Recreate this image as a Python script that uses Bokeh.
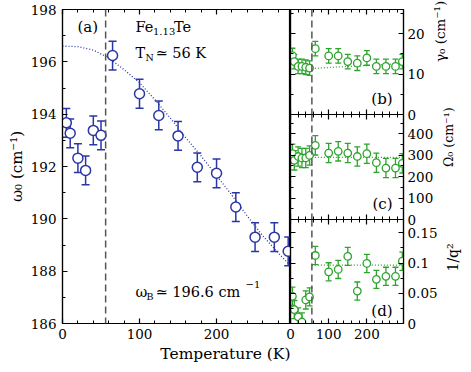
import math
from bokeh.plotting import figure
from bokeh.models import (ColumnDataSource, Whisker, TeeHead, Span, Label,
                          LinearAxis, FixedTicker, Range1d, Title)
from bokeh.layouts import row, column
from bokeh.embed import file_html
from bokeh.resources import INLINE

# ---------------- data ----------------
temperature = [5, 10, 20, 30, 40, 50, 65, 100, 125, 150, 175, 200, 225, 250, 275, 293]
omega0 = [193.67, 193.27, 192.32, 191.85, 193.38, 193.19, 196.24, 194.78,
          193.95, 193.17, 191.97, 191.74, 190.45, 189.30, 189.30, 188.76]
omega0_err = [0.55, 0.55, 0.55, 0.55, 0.55, 0.55, 0.55, 0.55,
              0.55, 0.55, 0.55, 0.55, 0.55, 0.55, 0.55, 0.55]
gamma0 = [14.6, 13.1, 11.9, 11.9, 11.7, 11.5, 16.3, 14.5,
          14.5, 13.1, 12.7, 14.0, 11.9, 11.9, 11.9, 13.1]
gamma0_err = [1.8, 1.8, 1.8, 1.8, 1.8, 1.8, 1.8, 1.8,
              1.8, 1.8, 1.8, 1.8, 1.8, 1.8, 1.8, 1.8]
Omega0 = [307, 276, 294, 287, 287, 299, 346, 310,
          318, 310, 294, 307, 265, 240, 240, 262]
Omega0_err = [45, 45, 45, 45, 45, 45, 45, 45,
              45, 45, 45, 45, 45, 45, 45, 45]
inv_q2 = [0.045, 0.023, 0.011, 0.0025, 0.039, 0.044, 0.1125, 0.0855,
          0.0894, 0.111, 0.0536, 0.0993, 0.073, 0.078, 0.078, 0.103]
inv_q2_err = [0.015, 0.015, 0.015, 0.015, 0.015, 0.015, 0.015, 0.015,
              0.015, 0.015, 0.015, 0.015, 0.015, 0.015, 0.015, 0.015]

fit_T = [0, 20, 40, 60, 80, 100, 120, 140, 160, 180, 200, 220, 240, 260, 280, 296]
fit_omega0 = [196.6, 196.58, 196.45, 196.15, 195.7, 195.2, 194.55, 193.85,
              193.1, 192.4, 191.65, 190.9, 190.1, 189.35, 188.7, 188.2]
fit_r_T = [56, 150, 296]
fit_gamma0 = [11.4, 11.9, 12.6]
fit_Omega0 = [290, 290, 290]
fit_inv_q2 = [0.0965, 0.0965, 0.0965]

T_N = 56
x_major = [0, 100, 200]
x_minor = [20, 40, 60, 80, 120, 140, 160, 180, 220, 240, 260, 280]
main_y_major = [186, 188, 190, 192, 194, 196, 198]
main_y_minor = [187, 189, 191, 193, 195, 197]
b_major = [0, 10, 20]
b_minor = [5, 15, 25]
c_major = [0, 100, 200, 300, 400]
c_minor = [50, 150, 250, 350, 450]
d_major = [0, 0.05, 0.1, 0.15]
d_minor = [0.025, 0.075, 0.125]

# ---------------- styling ----------------
BLUE = "#2a36a6"
GREEN = "#2ea32e"
DASH = "#555555"
FONT = "DejaVu Serif"
TICK_FS = "13.5px"
LABEL_FS = "15px"

X_MAX = 296
MAIN_Y = (186, 198)
B_Y = (0, 26)
C_Y = (0, 490)
D_Y = (0, 0.172)


def style_axis(ax, major, minor, labels=True):
    ax.ticker = FixedTicker(ticks=major, minor_ticks=minor)
    ax.major_tick_in = 5
    ax.major_tick_out = 0
    ax.minor_tick_in = 3
    ax.minor_tick_out = 0
    ax.axis_line_color = "black"
    ax.axis_line_width = 1.2
    ax.major_tick_line_color = "black"
    ax.major_tick_line_width = 1.2
    ax.minor_tick_line_color = "black"
    ax.minor_tick_line_width = 1.0
    ax.major_label_text_font = FONT
    ax.axis_label_text_font = FONT
    ax.axis_label_text_font_style = "normal"
    ax.axis_label_text_font_size = LABEL_FS
    ax.axis_label_text_color = "black"
    if labels:
        ax.major_label_text_color = "black"
        ax.major_label_text_font_size = TICK_FS
        ax.major_label_standoff = 5
    else:
        ax.major_label_text_color = None
        ax.major_label_text_font_size = "1px"
        ax.major_label_standoff = 0


def tick_axis(p, side, major, minor):
    ax = LinearAxis()
    style_axis(ax, major, minor, labels=False)
    p.add_layout(ax, side)
    return ax


def add_series(p, xs, ys, errs, color, size, cap, lw):
    src = ColumnDataSource(dict(
        x=xs, y=ys,
        lo=[v - e for v, e in zip(ys, errs)],
        hi=[v + e for v, e in zip(ys, errs)]))
    w = Whisker(base="x", lower="lo", upper="hi", source=src,
                line_color=color, line_width=lw,
                upper_head=TeeHead(size=cap, line_color=color, line_width=lw),
                lower_head=TeeHead(size=cap, line_color=color, line_width=lw))
    p.add_layout(w)
    p.scatter("x", "y", source=src, marker="circle", size=size,
              fill_color="white", line_color=color, line_width=lw)


def base_fig(width, height, yr, borders, transparent=False, yloc="left"):
    p = figure(width=width, height=height, x_range=Range1d(0, X_MAX),
               y_range=Range1d(*yr), output_backend="svg",
               toolbar_location=None, x_axis_location="below",
               y_axis_location=yloc,
               min_border_left=borders[0], min_border_right=borders[1],
               min_border_top=borders[2], min_border_bottom=borders[3])
    p.xgrid.visible = False
    p.ygrid.visible = False
    p.outline_line_color = "black"
    p.outline_line_width = 1.2
    if transparent:
        p.background_fill_color = None
        p.border_fill_color = None
    return p


# ---------------- main panel (a) ----------------
FL, FR, FT, FB = 62, 290, 9, 323   # frame edges in page pixels


def mxy(px, py):
    return ((px - FL) / (FR - FL) * X_MAX,
            MAIN_Y[1] - (py - FT) / (FB - FT) * (MAIN_Y[1] - MAIN_Y[0]))


main = base_fig(290, 370, MAIN_Y, (62, 0, 9, 47))
style_axis(main.xaxis[0], x_major, x_minor)
style_axis(main.yaxis[0], main_y_major, main_y_minor)
main.yaxis[0].major_label_standoff = 6
main.yaxis[0].axis_label = "ω₀ (cm⁻¹)"
main.yaxis[0].axis_label_standoff = 2
tick_axis(main, "above", x_major, x_minor)
main.add_layout(Title(text="Temperature (K)", align="right", text_font=FONT,
                      text_font_size="15.5px", text_font_style="normal",
                      text_color="black", standoff=2, offset=0), "below")

main.line(fit_T, fit_omega0, line_color=BLUE, line_dash="1 2", line_width=1.3)
main.add_layout(Span(location=T_N, dimension="height", line_color=DASH,
                     line_dash="7 4", line_width=1.5))
add_series(main, temperature, omega0, omega0_err, BLUE, 10, 8, 1.5)


def lab(p, xy, text, size="15px", align="left"):
    p.add_layout(Label(x=xy[0], y=xy[1], text=text, text_font=FONT,
                       text_font_size=size, text_align=align,
                       text_baseline="middle", text_color="black"))


lab(main, mxy(77, 26), "(a)")
lab(main, mxy(135, 26), "Fe", "14.5px")
lab(main, mxy(152.5, 31), "1.13", "10px")
lab(main, mxy(173.5, 26), "Te", "14.5px")
lab(main, mxy(135, 52), "T", "14.5px")
lab(main, mxy(145, 57), "N", "9.5px")
lab(main, mxy(155, 52), "≃ 56 K", "14.5px")
lab(main, mxy(135, 291), "ω", "14.5px")
lab(main, mxy(146, 296), "B", "9.5px")
lab(main, mxy(155, 291), "≃ 196.6 cm", "14.5px")
lab(main, mxy(245, 284), "−1", "10px")

# ---------------- right panels ----------------
RL, RR = 290, 404
RW = 189


def rx(px):
    return (px - RL) / (RR - RL) * X_MAX


def make_right(height, yr, top, bottom, ymaj, ymin, label, label_fs, bottom_labels):
    p = base_fig(RW, height, yr, (8, RW - 8 - (RR - RL), top, bottom),
                 transparent=True, yloc="right")
    style_axis(p.xaxis[0], x_major, x_minor, labels=bottom_labels)
    style_axis(p.yaxis[0], ymaj, ymin)
    p.yaxis[0].major_label_standoff = 4
    p.yaxis[0].axis_label = label
    p.yaxis[0].axis_label_text_font_size = label_fs
    p.yaxis[0].axis_label_standoff = 12
    p.yaxis[0].axis_label_orientation = math.pi / 2
    tick_axis(p, "above", x_major, x_minor)
    tick_axis(p, "left", ymaj, ymin)
    p.add_layout(Span(location=T_N, dimension="height", line_color=DASH,
                      line_dash="7 4", line_width=1.5))
    return p


# panel (b): canvas 0..122, frame 9..114
pb = make_right(122, B_Y, 9, 8, b_major, b_minor, "γ₀ (cm⁻¹)", "13.5px", False)
pb.line(fit_r_T, fit_gamma0, line_color=GREEN, line_dash="1 2", line_width=1.3)
add_series(pb, temperature, gamma0, gamma0_err, GREEN, 7.5, 6, 1.3)
lab(pb, (rx(393), (114 - 98) / 105 * B_Y[1]), "(b)", "15px", "right")

# panel (c): canvas 106..227, frame 114..219
pc = make_right(121, C_Y, 8, 8, c_major, c_minor, "Ω₀ (cm⁻¹)", "12.5px", False)
pc.styles = {"margin-top": "-16px"}
pc.line(fit_r_T, fit_Omega0, line_color=GREEN, line_dash="1 2", line_width=1.3)
add_series(pc, temperature, Omega0, Omega0_err, GREEN, 7.5, 6, 1.3)
lab(pc, (rx(393), (219 - 203) / 105 * C_Y[1]), "(c)", "15px", "right")

# panel (d): canvas 211..370, frame 219..323
pd = make_right(159, D_Y, 8, 47, d_major, d_minor, "1/q²", "14px", True)
pd.styles = {"margin-top": "-16px"}
pd.yaxis[0].major_label_overrides = {0: "0", 0.05: "0.05", 0.1: "0.1", 0.15: "0.15"}
pd.line(fit_r_T, fit_inv_q2, line_color=GREEN, line_dash="1 2", line_width=1.3)
add_series(pd, temperature, inv_q2, inv_q2_err, GREEN, 7.5, 6, 1.3)
lab(pd, (rx(393), (323 - 310) / 104 * D_Y[1]), "(d)", "15px", "right")

right_col = column(pb, pc, pd, styles={"margin-left": "-8px"})
root = row(main, right_col)

open("out.html", "w").write(file_html(root, INLINE))
